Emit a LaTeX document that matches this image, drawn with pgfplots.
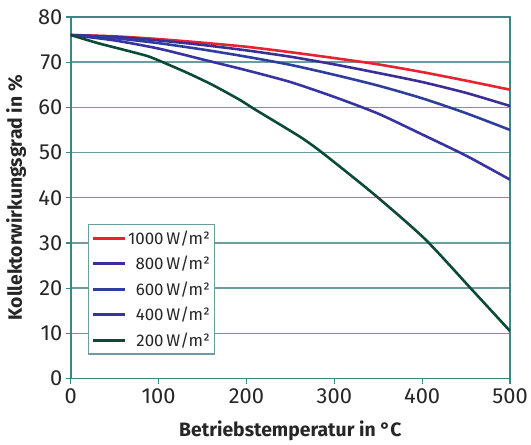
\documentclass[border=0pt]{standalone}
\usepackage{fontspec}
\setmainfont{Fira Sans}
\usepackage{pgfplots}
\pgfplotsset{compat=1.18}

\definecolor{gridteal}{HTML}{6E9C9E}
\definecolor{axisteal}{HTML}{3F8584}
\definecolor{c1000}{HTML}{E8232F}
\definecolor{c800}{HTML}{3B2F96}
\definecolor{c600}{HTML}{2E3E9E}
\definecolor{c400}{HTML}{3733A0}
\definecolor{c200}{HTML}{0C4A38}

\begin{document}
\begin{tikzpicture}
\begin{axis}[
    name=ax,
    width=441bp, height=363bp, scale only axis,
    xmin=0, xmax=500, ymin=0, ymax=80,
    xtick={0,100,...,500}, ytick={0,10,...,80},
    xtick pos=bottom, ytick pos=left,
    ymajorgrids, grid style={gridteal, line width=1.3bp},
    axis line style={axisteal, line width=1.6bp},
    tick style={axisteal, line width=1.2bp},
    tick align=outside, major tick length=5bp,
    /pgf/number format/assume math mode=true,
    ticklabel style={font=\fontsize{22}{22}\selectfont, text=black!85},
    xticklabel style={yshift=-2bp},
    xlabel={Betriebstemperatur in °C},
    ylabel={Kollektorwirkungsgrad in \%},
    xlabel style={font=\fontsize{19.5}{19.5}\selectfont\bfseries, text=black!85, yshift=-10bp},
    ylabel style={font=\fontsize{19.5}{19.5}\selectfont\bfseries, text=black!85, yshift=5bp},
    legend style={at={(0.0385,0.427)}, anchor=north west, draw=gridteal,
        line width=1.2bp, fill=white, font=\fontsize{17}{17}\selectfont,
        row sep=6.5bp, inner xsep=3bp, inner ysep=4bp, text=black!85},
    legend cell align=right,
    legend image code/.code={\draw[#1, line width=3bp] (0bp,0bp) -- (32bp,0bp);},
    every axis plot/.append style={line width=2.6bp, smooth, tension=0.4},
]
\addplot[c1000] coordinates {(0,76) (50,75.7) (100,75.1) (150,74.3) (200,73.4) (250,72.2) (300,70.9) (350,69.5) (400,67.8) (450,65.9) (500,63.9)};
\addlegendentry{1000\,W/m²}
\addplot[c800] coordinates {(0,76) (50,75.6) (100,74.8) (150,73.8) (200,72.6) (250,71.2) (300,69.5) (350,67.6) (400,65.6) (450,63.2) (500,60.3)};
\addlegendentry{800\,W/m²}
\addplot[c600] coordinates {(0,76) (50,75.3) (100,74.2) (150,72.8) (200,71.2) (250,69.4) (300,67.2) (350,64.8) (400,62.0) (450,58.7) (500,55.0)};
\addlegendentry{600\,W/m²}
\addplot[c400] coordinates {(0,76) (50,74.8) (100,73.0) (150,70.6) (200,68.2) (250,65.6) (300,62.3) (350,58.6) (400,54.0) (450,49.3) (500,44.0)};
\addlegendentry{400\,W/m²}
\addplot[c200] coordinates {(0,76) (31,74.2) (61,72.7) (88,71.3) (107,69.8) (133,67.6) (161,65) (192,61.7) (210,59.5) (260,53.6) (286,50) (345,40.8) (403,30.9) (456,19.8) (500,10.5)};
\addlegendentry{200\,W/m²}
\end{axis}
\path ([yshift=17bp]ax.north west) ([xshift=-71bp]ax.south west);
\end{tikzpicture}
\end{document}
